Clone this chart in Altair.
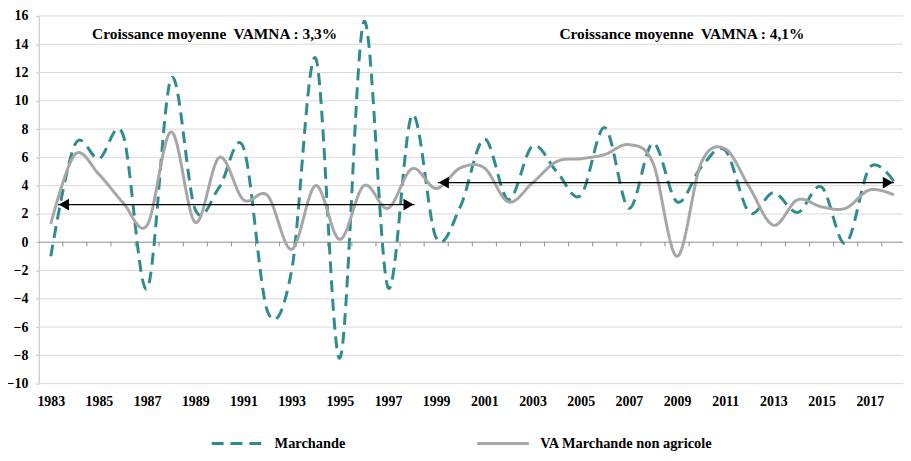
import altair as alt
import pandas as pd

# ---------------- data ----------------
years = list(range(1983, 2019))
marchande = [-1.0, 6.9, 5.9, 7.6, -3.3, 11.6, 2.3, 3.9, 6.7, -4.9,
             -2.0, 13.0, -8.2, 15.6, -3.2, 9.0, 0.3, 2.5, 7.3, 3.0,
             6.8, 5.0, 3.3, 8.1, 2.4, 7.0, 2.85, 5.3, 6.5, 2.1,
             3.5, 2.1, 3.9, -0.1, 5.3, 4.3]
va_mna = [1.3, 6.2, 4.8, 2.8, 1.2, 7.8, 1.4, 6.0, 3.0, 3.3,
          -0.5, 4.0, 0.2, 4.0, 2.4, 5.2, 3.8, 5.25, 5.25, 2.85,
          4.2, 5.7, 5.9, 6.2, 6.9, 5.6, -1.0, 5.6, 6.6, 3.9,
          1.2, 3.0, 2.5, 2.4, 3.7, 3.35]
series_names = ["Marchande", "VA Marchande non agricole"]
series_colors = ["#2E8B8E", "#A6A6A6"]
series_dash = [[12, 7], [1, 0]]

label_years = list(range(1983, 2018, 2))
y_ticks = list(range(-10, 17, 2))
tick_bounds = [y + 0.5 for y in range(1983, 2018)]
tick_len = 0.3  # in value units below the zero line

arrow_y = [2.66, 4.22]
arrow_start = [1983.3, 1999.07]
arrow_end = [1998.1, 2018.0]

annot_text = ["Croissance moyenne\u00a0 VAMNA : 3,3%", "Croissance moyenne\u00a0 VAMNA : 4,1%"]
annot_x = [1989.8, 2009.2]
annot_y = [14.7, 14.75]

FONT = "Liberation Serif"

# ---------------- tables ----------------
df = pd.DataFrame({
    "year": years * 2,
    "value": marchande + va_mna,
    "series": [series_names[0]] * len(years) + [series_names[1]] * len(years),
})
df_grid = pd.DataFrame({"value": [v for v in y_ticks if v != 0]})
df_zero = pd.DataFrame({"value": [0]})
df_ticks = pd.DataFrame({"year": tick_bounds, "value": [0] * len(tick_bounds), "value2": [-tick_len] * len(tick_bounds)})
df_arrows = pd.DataFrame({"year": arrow_start, "year2": arrow_end, "value": arrow_y})
df_annot = pd.DataFrame({"year": annot_x, "value": annot_y, "t": annot_text})

xscale = alt.Scale(domain=[1982.5, 2018.38], nice=False, zero=False)
yscale = alt.Scale(domain=[-10, 16], nice=False)

x_axis = alt.Axis(
    values=label_years, format="d", grid=False, domain=False, ticks=False,
    labelPadding=11, title=None, labelFont=FONT, labelFontSize=14,
    labelFontWeight="bold", labelColor="black", labelFlush=False,
    labelOverlap=False,
)
y_axis = alt.Axis(
    values=y_ticks, grid=False,
    domainColor="#BFBFBF", tickColor="#BFBFBF", tickSize=3, labelPadding=8,
    title=None, labelFont=FONT, labelFontSize=14, labelFontWeight="bold",
    labelColor="black", labelOverlap=False,
)

X = alt.X("year:Q", scale=xscale, axis=x_axis)
Y = alt.Y("value:Q", scale=yscale, axis=y_axis)

legend = alt.Legend(
    title=None, orient="none", legendX=173, legendY=404, direction="horizontal",
    symbolType="stroke", symbolSize=2700, symbolStrokeWidth=3,
    labelFont=FONT, labelFontSize=14.5, labelFontWeight="bold", labelColor="black",
    labelOffset=10, columnPadding=126, padding=0, labelLimit=0,
)

grid = alt.Chart(df_grid).mark_rule(color="#D9D9D9", strokeWidth=1).encode(y=Y)
zero_line = alt.Chart(df_zero).mark_rule(color="#8C8C8C", strokeWidth=1).encode(y=Y)
ticks = alt.Chart(df_ticks).mark_rule(color="#8C8C8C", strokeWidth=1).encode(
    x=X, y=Y, y2="value2:Q"
)

lines = alt.Chart(df).mark_line(interpolate="cardinal", strokeWidth=3, strokeCap="butt").encode(
    x=X,
    y=Y,
    color=alt.Color("series:N", scale=alt.Scale(domain=series_names, range=series_colors), legend=legend),
    strokeDash=alt.StrokeDash("series:N", scale=alt.Scale(domain=series_names, range=series_dash), legend=legend),
    order=alt.Order("year:Q"),
)

arrow_lines = alt.Chart(df_arrows).mark_rule(color="black", strokeWidth=1.3).encode(
    x=X, x2="year2:Q", y=Y
)
heads_left = alt.Chart(df_arrows).mark_point(shape="triangle-left", filled=True, size=140, color="black", opacity=1, xOffset=6).encode(
    x=X, y=Y
)
heads_right = alt.Chart(df_arrows).mark_point(shape="triangle-right", filled=True, size=140, color="black", opacity=1, xOffset=-6).encode(
    x=alt.X("year2:Q", scale=xscale, axis=x_axis), y=Y
)

annots = alt.Chart(df_annot).mark_text(font=FONT, fontSize=15.5, fontWeight="bold", color="black").encode(
    x=X, y=Y, text="t:N"
)

chart = alt.layer(grid, zero_line, ticks, lines, arrow_lines, heads_left, heads_right, annots).properties(
    width=872, height=371,
    padding={"left": 31, "top": 6, "right": 0, "bottom": 68},
    autosize=alt.AutoSizeParams(type="none"),
    background="white",
).configure_view(stroke=None)

chart.save("out.html", embed_options={"renderer": "svg", "actions": False})
